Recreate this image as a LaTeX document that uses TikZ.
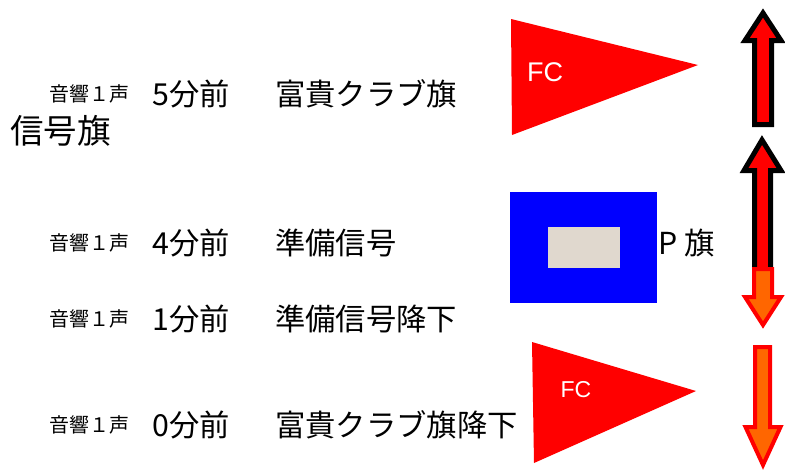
\documentclass[tikz,border=0pt]{standalone}
\usepackage{fontspec}
\newfontfamily\jp{Noto Sans CJK JP}
\newfontfamily\lsans{Liberation Sans}
\definecolor{flagred}{HTML}{FF0000}
\definecolor{arrorange}{HTML}{FF6600}
\definecolor{pblue}{HTML}{0000FF}
\definecolor{pbeige}{HTML}{E0D8CE}
\tikzset{
  small/.style={anchor=west,inner sep=0pt,font=\jp\fontsize{20}{20}\selectfont},
  main/.style={anchor=west,inner sep=0pt,font=\jp\fontsize{30.3}{30}\selectfont},
  big/.style={anchor=west,inner sep=0pt,font=\jp\fontsize{33.5}{33}\selectfont},
  fclabel/.style={text=white,inner sep=0pt,font=\lsans},
  pennant/.style={fill=flagred,draw=none},
  uparrow/.style={draw=black,fill=flagred,line width=5pt,line join=miter},
  downarrow/.style={draw=flagred,fill=arrorange,line width=4pt,line join=miter},
}
\begin{document}
\begin{tikzpicture}[x=1pt,y=-1pt]
\useasboundingbox (0,0) rectangle (785,471);
% rows of text
\node[small] (s1) at (49,94) {音響１声};
\node[main] (t1) at (152,94) {5分前};
\node[main] (f1) at (275,94) {富貴クラブ旗};
\node[big] (sig) at (10,131) {信号旗};
\node[small] (s2) at (49,243) {音響１声};
\node[main] (t2) at (152,243) {4分前};
\node[main] (f2) at (275,243) {準備信号};
\node[small] (s3) at (49,319) {音響１声};
\node[main] (t3) at (152,319) {1分前};
\node[main] (f3) at (275,319) {準備信号降下};
\node[small] (s4) at (49,425) {音響１声};
\node[main] (t4) at (152,425) {0分前};
\node[main] (f4) at (275,425) {富貴クラブ旗降下};
% top FC pennant
\fill[pennant] (511,19) -- (698,65) -- (512,135) -- cycle;
\node[fclabel,font=\lsans\fontsize{27}{27}\selectfont] (fc1) at (545,72) {FC};
% P flag
\fill[pblue] (510,192) rectangle (657,303);
\fill[pbeige] (548,227) rectangle (620,268);
\node[main] (pf) at (658,243) {P 旗};
% bottom FC pennant
\fill[pennant] (532,342) -- (696,391) -- (534,463) -- cycle;
\node[fclabel,font=\lsans\fontsize{23}{23}\selectfont] (fc2) at (576,390) {FC};
% arrows
\draw[uparrow] (763,13) -- (781,40.5) -- (771.5,40.5) -- (771.5,124.5) -- (754.5,124.5) -- (754.5,40.5) -- (745,40.5) -- cycle;
\draw[uparrow] (762,140) -- (781,170.5) -- (770.5,170.5) -- (770.5,270) -- (754.5,270) -- (754.5,170.5) -- (744,170.5) -- cycle;
\draw[downarrow] (763,325) -- (781,297) -- (772,297) -- (772,269) -- (754,269) -- (754,297) -- (745,297) -- cycle;
\draw[downarrow] (763,465) -- (780.5,427) -- (770,427) -- (770,347) -- (755,347) -- (755,427) -- (745.5,427) -- cycle;
\end{tikzpicture}
\end{document}
